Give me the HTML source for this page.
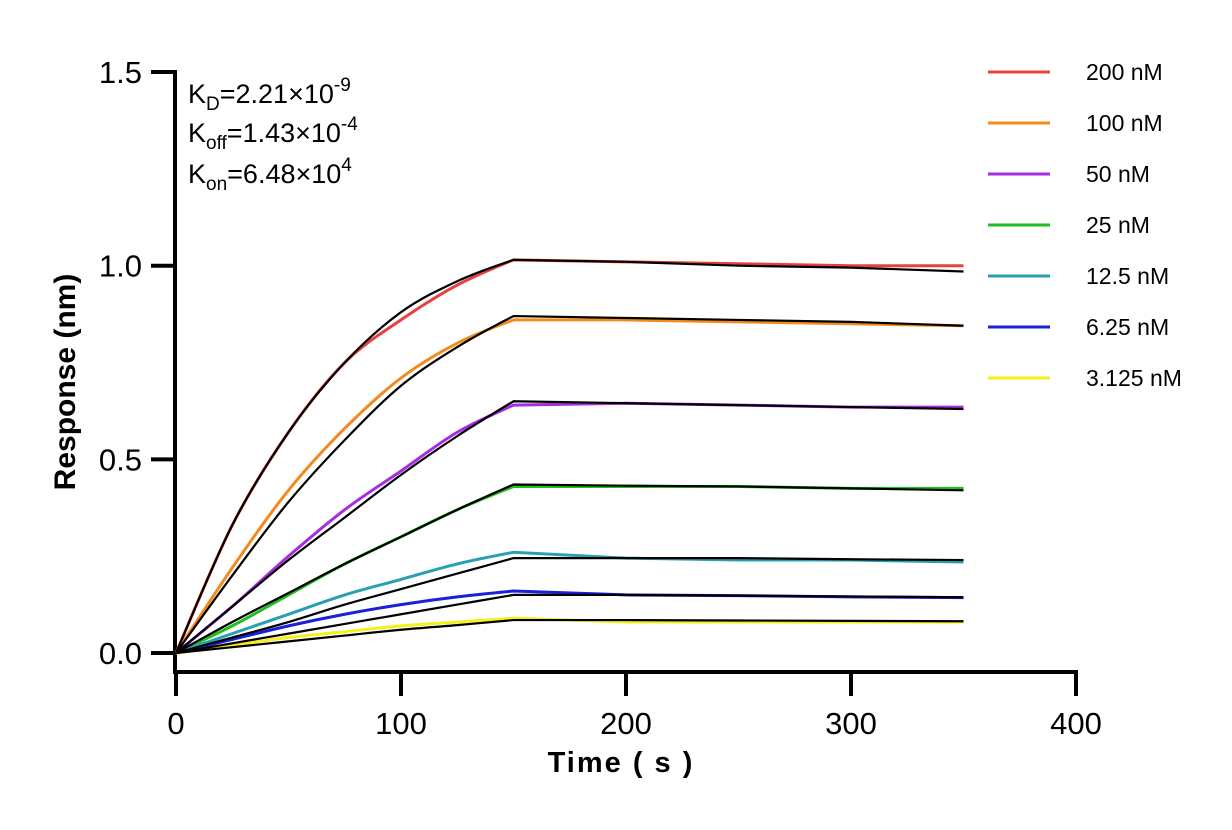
<!DOCTYPE html>
<html><head><meta charset="utf-8"><style>
body{margin:0;background:#fff;}
svg text{font-family:"Liberation Sans",Arial,sans-serif;}
</style></head><body>
<svg id="chart" width="1232" height="825" viewBox="0 0 1232 825" xmlns="http://www.w3.org/2000/svg">
<g id="axes"></g>
<g id="series"></g>
<g id="legend"></g>
<g font-size="27" fill="#000">
<text x="188" y="103">K<tspan font-size="19" dy="7">D</tspan><tspan dy="-7">=2.21×10</tspan><tspan font-size="19" dy="-12">-9</tspan></text>
<text x="188" y="142">K<tspan font-size="19" dy="7">off</tspan><tspan dy="-7">=1.43×10</tspan><tspan font-size="19" dy="-12">-4</tspan></text>
<text x="188" y="183">K<tspan font-size="19" dy="7">on</tspan><tspan dy="-7">=6.48×10</tspan><tspan font-size="19" dy="-12">4</tspan></text>
</g>
<text x="75" y="382" transform="rotate(-90 75 382)" text-anchor="middle" font-size="30" font-weight="bold">Response (nm)</text>
<text x="621" y="772" text-anchor="middle" font-size="29" font-weight="bold" letter-spacing="2">Time ( s )</text>
</svg>
<script>
const times = [0,25,50,75,100,125,150,200,250,300,350];
const labels = ["200 nM","100 nM","50 nM","25 nM","12.5 nM","6.25 nM","3.125 nM"];
const colors = ["#e8413c","#f28a1e","#a52ee0","#1fbf1f","#2a9fb0","#1a1fd8","#f2f21a"];
const data200 = [0,0.33,0.57,0.75,0.86,0.95,1.015,1.01,1.005,1.0,1.0];
const data100 = [0,0.22,0.42,0.58,0.71,0.80,0.86,0.86,0.855,0.85,0.845];
const data50 = [0,0.12,0.25,0.37,0.47,0.57,0.64,0.645,0.64,0.635,0.635];
const data25 = [0,0.07,0.15,0.23,0.30,0.37,0.43,0.43,0.43,0.425,0.425];
const data12 = [0,0.05,0.10,0.15,0.19,0.23,0.26,0.245,0.24,0.24,0.235];
const data6 = [0,0.035,0.07,0.10,0.125,0.145,0.16,0.15,0.148,0.145,0.143];
const data3 = [0,0.02,0.04,0.055,0.07,0.08,0.09,0.08,0.08,0.08,0.08];
const fit200 = [0,0.33,0.57,0.75,0.88,0.96,1.015,1.01,1.0,0.995,0.985];
const fit100 = [0,0.2,0.39,0.55,0.69,0.79,0.87,0.865,0.86,0.855,0.845];
const fit50 = [0,0.12,0.24,0.35,0.46,0.56,0.65,0.645,0.64,0.635,0.63];
const fit25 = [0,0.08,0.155,0.23,0.30,0.37,0.435,0.432,0.43,0.425,0.42];
const fit12 = [0,0.04,0.08,0.125,0.165,0.205,0.245,0.245,0.245,0.242,0.24];
const fit6 = [0,0.025,0.05,0.075,0.10,0.125,0.15,0.15,0.148,0.146,0.144];
const fit3 = [0,0.015,0.03,0.045,0.06,0.072,0.085,0.085,0.084,0.083,0.082];
const xTicks = [0,100,200,300,400];
const yTicks = [0,0.5,1.0,1.5];
const yTickLabels = ["0.0","0.5","1.0","1.5"];

const NS="http://www.w3.org/2000/svg";
const X = t => 176 + t*2.25;
const Y = v => 653 - v*387.3;
function mk(tag, parent){const e=document.createElementNS(NS,tag);parent.appendChild(e);return e;}
const axes=document.getElementById('axes');
let a=mk('line',axes);


a.setAttribute('x1',175);a.setAttribute('x2',175);a.setAttribute('y1',70);a.setAttribute('y2',674);a.setAttribute('stroke','#000');a.setAttribute('stroke-width',4);
a=mk('line',axes);


a.setAttribute('x1',173);a.setAttribute('x2',1078);a.setAttribute('y1',672);a.setAttribute('y2',672);a.setAttribute('stroke','#000');a.setAttribute('stroke-width',4);
yTicks.forEach((v,i)=>{
  const l=mk('line',axes);
  
  
  l.setAttribute('x1',151);l.setAttribute('x2',175);l.setAttribute('y1',Y(v));l.setAttribute('y2',Y(v));l.setAttribute('stroke','#000');l.setAttribute('stroke-width',4);
  const t=mk('text',axes);
  
  
  t.setAttribute('x',142);t.setAttribute('y',Y(v)+11);t.setAttribute('text-anchor','end');t.setAttribute('font-size','31');
  t.textContent=yTickLabels[i];
});
xTicks.forEach(v=>{
  const l=mk('line',axes);
  
  
  l.setAttribute('x1',X(v));l.setAttribute('x2',X(v));l.setAttribute('y1',672);l.setAttribute('y2',696);l.setAttribute('stroke','#000');l.setAttribute('stroke-width',4);
  const t=mk('text',axes);
  
  
  t.setAttribute('x',X(v));t.setAttribute('y',734);t.setAttribute('text-anchor','middle');t.setAttribute('font-size','31');
  t.textContent=String(v);
});
function pathFor(vals){
  const p=times.map((t,i)=>[X(t),Y(vals[i])]);
  let d='M'+p[0][0]+','+p[0][1];
  for(let i=0;i<p.length-1;i++){
    if(i===5){
      const p0=p[i-1],p1=p[i],p2=p[i+1];
      const c1=[p1[0]+(p2[0]-p0[0])/6,p1[1]+(p2[1]-p0[1])/6];
      d+=' C'+c1[0]+','+c1[1]+' '+p2[0]+','+p2[1]+' '+p2[0]+','+p2[1];continue;}
    if(i>=6){d+=' L'+p[i+1][0]+','+p[i+1][1];continue;}
    const p0=p[Math.max(i-1,0)],p1=p[i],p2=p[i+1],p3=p[Math.min(i+2,6)];
    const c1=[p1[0]+(p2[0]-p0[0])/6,p1[1]+(p2[1]-p0[1])/6];
    const c2=[p2[0]-(p3[0]-p1[0])/6,p2[1]-(p3[1]-p1[1])/6];
    d+=' C'+c1[0]+','+c1[1]+' '+c2[0]+','+c2[1]+' '+p2[0]+','+p2[1];
  }
  return d;
}
const dataSets=[data200,data100,data50,data25,data12,data6,data3];
const fitSets=[fit200,fit100,fit50,fit25,fit12,fit6,fit3];
const sg=document.getElementById('series');
dataSets.forEach((ds,i)=>{
  const p=mk('path',sg);
  
  
  p.setAttribute('d',pathFor(ds));p.setAttribute('fill','none');p.setAttribute('stroke',colors[i]);p.setAttribute('stroke-width',3);
});
fitSets.forEach((ds,i)=>{
  const p=mk('path',sg);
  
  
  p.setAttribute('d',pathFor(ds));p.setAttribute('fill','none');p.setAttribute('stroke','#000');p.setAttribute('stroke-width',2.2);
});
const lg=document.getElementById('legend');
labels.forEach((lab,i)=>{
  const y=72+i*51;
  const g=mk('g',lg);
  
  
  const l=mk('line',g);
  
  
  l.setAttribute('x1',988);l.setAttribute('x2',1050);l.setAttribute('y1',y);l.setAttribute('y2',y);l.setAttribute('stroke',colors[i]);l.setAttribute('stroke-width',3);
  const t=mk('text',g);
  
  
  t.setAttribute('x',1086);t.setAttribute('y',y+8);t.setAttribute('font-size','23');
  t.textContent=lab;
});
</script>
</body></html>
